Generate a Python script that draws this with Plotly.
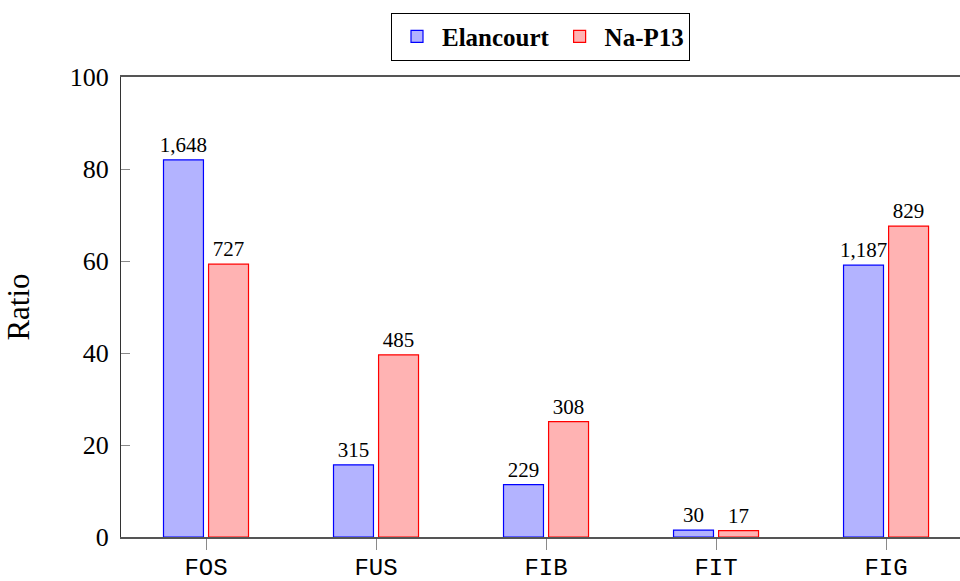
import plotly.graph_objects as go

# Categories and per-site ratios (percent) with the raw counts shown above each bar
categories = ["FOS", "FUS", "FIB", "FIT", "FIG"]
elancourt_ratio = [82.0, 15.7, 11.4, 1.5, 59.1]
elancourt_count = ["1,648", "315", "229", "30", "1,187"]
nap13_ratio = [59.3, 39.6, 25.1, 1.4, 67.6]
nap13_count = ["727", "485", "308", "17", "829"]
y_ticks = [0, 20, 40, 60, 80, 100]

SERIF = "Liberation Serif"
MONO = "Liberation Mono"

fig = go.Figure()
fig.add_trace(go.Bar(
    name="Elancourt", x=list(range(len(categories))), y=elancourt_ratio,
    text=elancourt_count, textposition="outside", constraintext="none",
    textfont=dict(family=SERIF, size=21, color="black"),
    marker=dict(color="#b3b3ff", line=dict(color="#0000ff", width=1.2)),
    width=0.235, offset=-0.25, cliponaxis=False,
))
fig.add_trace(go.Bar(
    name="Na-P13", x=list(range(len(categories))), y=nap13_ratio,
    text=nap13_count, textposition="outside", constraintext="none",
    textfont=dict(family=SERIF, size=21, color="black"),
    marker=dict(color="#ffb3b3", line=dict(color="#ff0000", width=1.2)),
    width=0.235, offset=0.015, cliponaxis=False,
))

fig.update_layout(
    width=960, height=581,
    margin=dict(l=121, r=0, t=77, b=44, autoexpand=False),
    plot_bgcolor="white", paper_bgcolor="white",
    barmode="group",
    showlegend=True,
    legend=dict(
        orientation="h", x=0.5, xanchor="center", y=1.14, yanchor="top",
        font=dict(family=SERIF, size=25, color="black", weight="bold"),
        bordercolor="black", borderwidth=1, bgcolor="white",
        itemwidth=40, tracegroupgap=0,
    ),
    xaxis=dict(
        range=[-0.5, 4.435], automargin=False,
        tickmode="array", tickvals=list(range(len(categories))), ticktext=categories,
        ticks="outside", ticklen=11, tickcolor="#8a8a8a", tickwidth=1,
        tickfont=dict(family=MONO, size=24, color="black"),
        ticklabelstandoff=-4,
        showline=True, linecolor="#555555", linewidth=1.5, mirror=True,
        showgrid=False, zeroline=False,
    ),
    yaxis=dict(
        range=[0, 100], automargin=False,
        tickmode="array", tickvals=y_ticks,
        ticks="inside", ticklen=9, tickcolor="#8a8a8a", tickwidth=1,
        tickfont=dict(family=SERIF, size=26, color="black"),
        ticklabelstandoff=6,
        showline=True, linecolor="#333333", linewidth=1.2,
        showgrid=False, zeroline=False,
        title=dict(text="Ratio", font=dict(family=SERIF, size=31, color="black"), standoff=30),
    ),
)

fig.write_html("out.html")
